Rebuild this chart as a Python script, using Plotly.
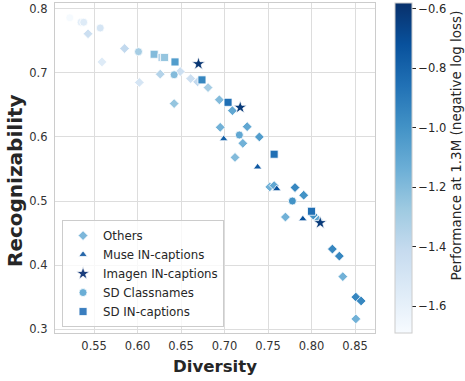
import plotly.graph_objects as go
import plotly.express as px

# ---- data ----
others_x = [0.543, 0.559, 0.585, 0.602, 0.626, 0.649, 0.642, 0.661, 0.669, 0.681, 0.694, 0.709, 0.695,
            0.726, 0.740, 0.721, 0.712, 0.752, 0.757, 0.781, 0.791, 0.802, 0.808, 0.770, 0.824, 0.832,
            0.836, 0.851, 0.857, 0.851]
others_y = [0.761, 0.717, 0.738, 0.685, 0.698, 0.702, 0.652, 0.691, 0.686, 0.677, 0.658, 0.641, 0.615,
            0.616, 0.600, 0.590, 0.568, 0.522, 0.524, 0.521, 0.509, 0.478, 0.470, 0.475, 0.425, 0.414,
            0.382, 0.350, 0.344, 0.316]
others_c = [-1.45, -1.55, -1.40, -1.50, -1.35, -1.45, -1.25, -1.45, -1.40, -1.30, -1.20, -1.10, -1.15,
            -1.10, -1.05, -1.15, -1.20, -1.15, -1.10, -0.95, -1.00, -1.00, -1.10, -1.15, -0.95, -0.95,
            -1.15, -0.95, -0.95, -1.15]

muse_x = [0.699, 0.738, 0.760, 0.790]
muse_y = [0.597, 0.553, 0.519, 0.472]
muse_c = [-0.78, -0.75, -0.72, -0.72]

imagen_x = [0.670, 0.718, 0.810]
imagen_y = [0.714, 0.646, 0.466]
imagen_c = [-0.60, -0.62, -0.62]

sdcls_x = [0.522, 0.535, 0.538, 0.557, 0.601, 0.642, 0.717, 0.778]
sdcls_y = [0.786, 0.779, 0.779, 0.770, 0.733, 0.697, 0.603, 0.500]
sdcls_c = [-1.68, -1.58, -1.55, -1.50, -1.30, -1.20, -1.10, -1.00]

sdin_x = [0.619, 0.628, 0.631, 0.643, 0.674, 0.704, 0.757, 0.800]
sdin_y = [0.729, 0.724, 0.724, 0.717, 0.689, 0.654, 0.573, 0.484]
sdin_c = [-1.20, -1.35, -1.25, -1.05, -0.95, -0.85, -0.85, -0.85]

series = [
    ("Others", others_x, others_y, others_c, "diamond", 7.5, "#7db7da"),
    ("Muse IN-captions", muse_x, muse_y, muse_c, "triangle-up", 7.5, "#2566a9"),
    ("Imagen IN-captions", imagen_x, imagen_y, imagen_c, "star", 10, "#1b3e7c"),
    ("SD Classnames", sdcls_x, sdcls_y, sdcls_c, "circle", 8, "#6aaed6"),
    ("SD IN-captions", sdin_x, sdin_y, sdin_c, "square", 8, "#3a7ebf"),
]

x_ticks = [0.55, 0.60, 0.65, 0.70, 0.75, 0.80, 0.85]
y_ticks = [0.3, 0.4, 0.5, 0.6, 0.7, 0.8]
cb_ticks = [-0.6, -0.8, -1.0, -1.2, -1.4, -1.6]

FONT = "DejaVu Sans"
TXT = "#262626"
fig = go.Figure()
for name, xs, ys, cs, sym, sz, lc in series:
    fig.add_trace(go.Scatter(
        x=xs, y=ys, mode="markers", name=name, showlegend=False,
        marker=dict(symbol=sym, size=sz, color=cs, coloraxis="coloraxis",
                    line=dict(color="white", width=0.8)),
    ))
for name, xs, ys, cs, sym, sz, lc in series:
    fig.add_trace(go.Scatter(
        x=[None], y=[None], mode="markers", name=name, showlegend=True,
        marker=dict(symbol=sym, size=sz, color=lc, line=dict(color="white", width=0.8)),
    ))

fig.update_layout(
    width=465, height=381,
    margin=dict(l=55, r=90, t=3, b=48, autoexpand=False),
    paper_bgcolor="white", plot_bgcolor="white",
    font=dict(family=FONT, size=11.5, color=TXT),
    coloraxis=dict(
        colorscale=px.colors.sequential.Blues, cmin=-1.69, cmax=-0.58,
        colorbar=dict(
            thickness=17, len=330, lenmode="pixels", y=1, yanchor="top",
            x=1.0625, xanchor="left", xpad=0, ypad=0,
            outlinecolor="#cccccc", outlinewidth=1,
            tickvals=cb_ticks, tickformat=".1f", ticks="outside", ticklen=4,
            tickcolor=TXT, tickfont=dict(size=11.5, color=TXT),
        ),
    ),
    xaxis=dict(
        range=[0.505, 0.873], tickvals=x_ticks, automargin=False,
        tickformat=".2f", showgrid=True, gridcolor="#dddddd", gridwidth=1,
        showline=True, linecolor="#cccccc", linewidth=1.2, mirror=True, zeroline=False,
        tickfont=dict(size=11.5, color="#333333"), ticklabelstandoff=2,
    ),
    yaxis=dict(
        range=[0.294, 0.809], tickvals=y_ticks, automargin=False,
        tickformat=".1f", showgrid=True, gridcolor="#dddddd", gridwidth=1,
        showline=True, linecolor="#cccccc", linewidth=1.2, mirror=True, zeroline=False,
        tickfont=dict(size=11.5, color="#333333"), ticklabelstandoff=4,
    ),
    legend=dict(
        x=0.022, y=0.018, xanchor="left", yanchor="bottom",
        bgcolor="rgba(255,255,255,0.8)", bordercolor="#cccccc", borderwidth=1,
        font=dict(size=11.8, color=TXT), tracegroupgap=0,
    ),
    annotations=[
        dict(text="<b>Diversity</b>", xref="paper", yref="paper", x=0.5, y=-0.1,
             xanchor="center", yanchor="middle", showarrow=False,
             font=dict(size=16.6, color=TXT)),
        dict(text="<b>Recognizability</b>", textangle=-90, xref="paper", yref="paper",
             x=-0.125, y=0.4606, xanchor="center", yanchor="middle", showarrow=False,
             font=dict(size=20, color=TXT)),
        dict(text="Performance at 1.3M (negative log loss)", textangle=-90,
             xref="paper", yref="paper", x=1.253, y=0.568, xanchor="center", yanchor="middle",
             showarrow=False, font=dict(size=13.5, color=TXT)),
    ],
)

fig.write_html("out.html", config={"displayModeBar": False},
               post_script="document.body.style.margin='0';")
